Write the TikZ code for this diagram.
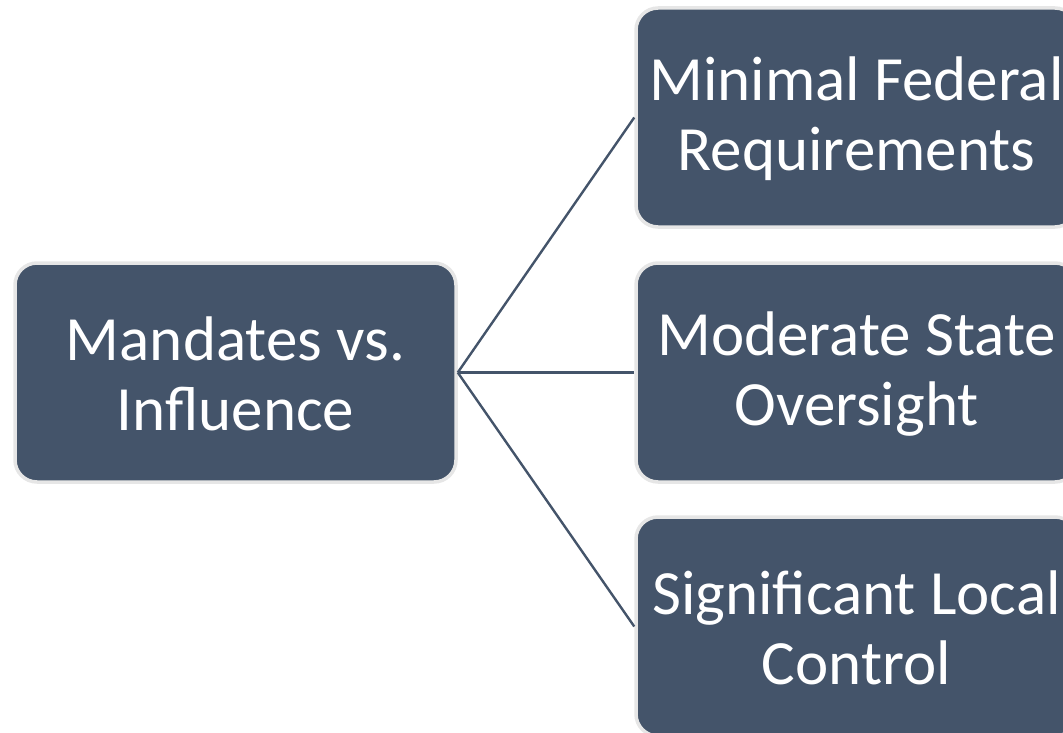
\documentclass[tikz,border=0pt]{standalone}
\usepackage{fontspec}
\setmainfont{Carlito}
\definecolor{boxfill}{HTML}{44546A}
\definecolor{boxedge}{HTML}{E6E6E6}
\begin{document}
\begin{tikzpicture}[x=1pt,y=1pt,
  box/.style={draw=boxedge, line width=3.5pt, fill=boxfill, rounded corners=22pt,
    minimum width=441pt, minimum height=219pt, align=center,
    text=white, font=\fontsize{63}{70}\selectfont, inner sep=0pt},
  lbl/.style={text=white, align=center, font=\fontsize{63}{70}\selectfont, inner sep=0pt},
  link/.style={draw=boxfill, line width=2.4pt}]
\useasboundingbox (0,0) rectangle (1063,-733);
\node[box] (root) at (235.5,-372.5) {};
\node[box] (a) at (856.5,-117.5) {};
\node[box] (b) at (856.5,-372.5) {};
\node[box] (c) at (856.5,-626.5) {};
\node[lbl] (rootl) at (235.5,-374) {Mandates vs.\\Influence};
\node[lbl] (al) at (856.5,-119) {Minimal Federal\\Requirements};
\node[lbl] (bl) at (856.5,-374) {Moderate State\\Oversight};
\node[lbl] (cl) at (856.5,-628) {Significant Local\\Control};
\draw[link] (root.east) -- (a.west);
\draw[link] (root.east) -- (b.west);
\draw[link] (root.east) -- (c.west);
\end{tikzpicture}
\end{document}
